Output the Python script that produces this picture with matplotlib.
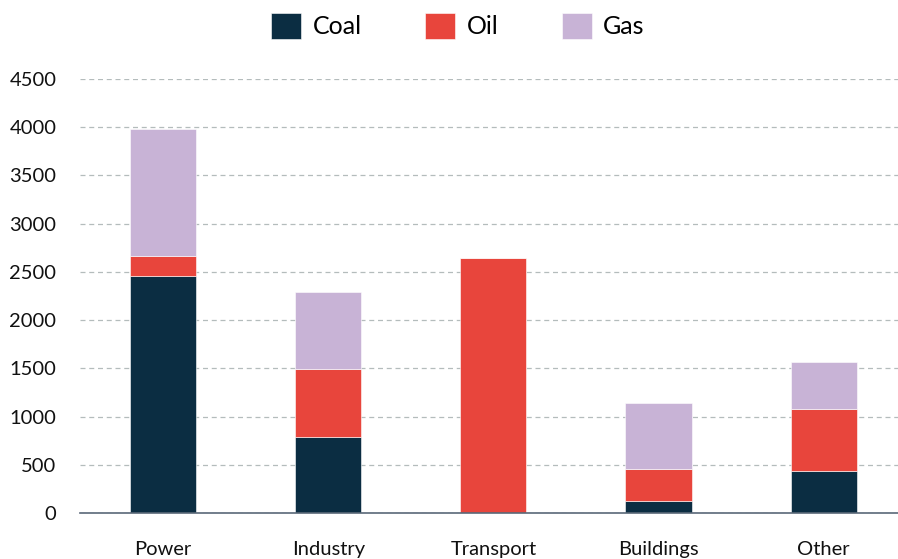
import matplotlib
matplotlib.use("Agg")
import matplotlib.pyplot as plt
import numpy as np

categories = ["Power", "Industry", "Transport", "Buildings", "Other"]
coal = [2455, 790, 0, 125, 440]
oil = [205, 705, 2645, 335, 640]
gas = [1320, 795, 0, 685, 485]
yticks = [0, 500, 1000, 1500, 2000, 2500, 3000, 3500, 4000, 4500]

plt.rcParams['font.family'] = ['Lato', 'DejaVu Sans']

fig = plt.figure(figsize=(8.98, 5.59), dpi=100)
ax = fig.add_axes([80/898, 1-513/559, 1-80/898, (513-79)/559])

x = np.arange(len(categories))
w = 0.4
c_coal, c_oil, c_gas = "#0b2d42", "#e8453c", "#c8b3d6"
coal_a = np.array(coal); oil_a = np.array(oil); gas_a = np.array(gas)
ax.bar(x, coal_a, w, color=c_coal, label="Coal", edgecolor="white", linewidth=0.4, zorder=3)
ax.bar(x, oil_a, w, bottom=coal_a, color=c_oil, label="Oil", edgecolor="white", linewidth=0.4, zorder=3)
ax.bar(x, gas_a, w, bottom=coal_a+oil_a, color=c_gas, label="Gas", edgecolor="white", linewidth=0.4, zorder=3)

ax.set_xlim(-0.503, 4.45)
ax.set_ylim(0, 4500)
ax.set_yticks(yticks)
ax.set_yticklabels([str(v) for v in yticks])
ax.set_xticks(x)
ax.set_xticklabels(categories)
ax.tick_params(axis='both', length=0, labelsize=14.5, colors="#111111")
ax.tick_params(axis='x', pad=20)
ax.tick_params(axis='y', pad=17)

ax.grid(axis='y', linestyle=(0, (4, 3)), color="#b4bcbc", linewidth=0.9, zorder=0)
for s in ["top", "right", "left"]:
    ax.spines[s].set_visible(False)
ax.spines["bottom"].set_color("#5a6878")
ax.spines["bottom"].set_linewidth(1.2)
ax.spines["bottom"].set_zorder(4)

fig.legend(loc="upper center", bbox_to_anchor=(0.51, 1.017), ncol=3, frameon=False,
           fontsize=18, handlelength=1.2, handleheight=1.2, columnspacing=2.55,
           handletextpad=0.45)

fig.savefig("out.png", dpi=100)
